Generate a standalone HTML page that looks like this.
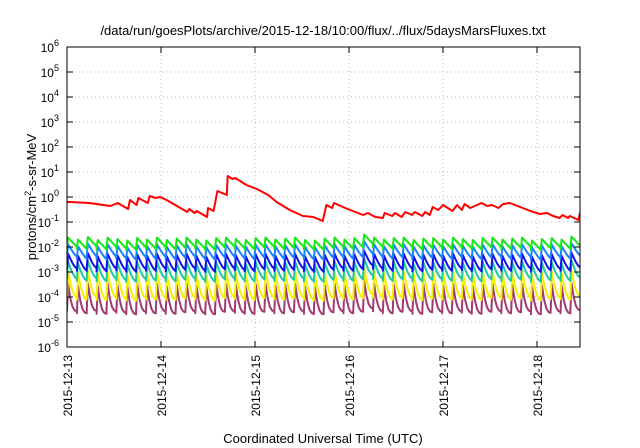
<!DOCTYPE html>
<html><head><meta charset="utf-8"><style>
html,body{margin:0;padding:0;background:#fff;}
svg{display:block;font-family:"Liberation Sans",sans-serif;}
</style></head><body>
<svg id="chart" width="640" height="448" viewBox="0 0 640 448" xmlns="http://www.w3.org/2000/svg">
<text x="323" y="35" font-size="13" text-anchor="middle">/data/run/goesPlots/archive/2015-12-18/10:00/flux/../flux/5daysMarsFluxes.txt</text>
<g id="grid"></g>
<g id="series"></g>
<rect x="67" y="47" width="513" height="300" fill="none" stroke="#000" stroke-width="1"/>
<g id="axes"></g>
<text transform="translate(36,197) rotate(-90)" font-size="13" text-anchor="middle">protons/cm<tspan dy="-5" font-size="9">2</tspan><tspan dy="5">-s-sr-MeV</tspan></text>
<text x="323" y="443" font-size="13" text-anchor="middle">Coordinated Universal Time (UTC)</text>
</svg>
<script>
const xTickLabels = ["2015-12-13","2015-12-14","2015-12-15","2015-12-16","2015-12-17","2015-12-18"];
const yTickExps = [-6,-5,-4,-3,-2,-1,0,1,2,3,4,5,6];
const cyclePeriod = 0.105;
const greenPeaks = [-1.62,-1.70,-1.60,-1.72,-1.62,-1.68,-1.74,-1.64,-1.70,-1.62,-1.72,-1.66,-1.62,-1.70,-1.74,-1.64,-1.62,-1.68,-1.72,-1.64,-1.62,-1.70,-1.66,-1.62,-1.72,-1.74,-1.66,-1.62,-1.70,-1.64,-1.50,-1.62,-1.70,-1.64,-1.62,-1.72,-1.66,-1.64,-1.70,-1.62,-1.68,-1.72,-1.64,-1.62,-1.70,-1.66,-1.62,-1.74,-1.68,-1.64,-1.70,-1.58];
const azurePeaks = [-1.89,-1.97,-1.87,-1.99,-1.89,-1.95,-2.01,-1.91,-1.97,-1.89,-1.99,-1.93,-1.89,-1.97,-2.01,-1.91,-1.89,-1.95,-1.99,-1.91,-1.89,-1.97,-1.93,-1.89,-1.99,-2.01,-1.93,-1.89,-1.97,-1.91,-1.77,-1.89,-1.97,-1.91,-1.89,-1.99,-1.93,-1.91,-1.97,-1.89,-1.95,-1.99,-1.91,-1.89,-1.97,-1.93,-1.89,-2.01,-1.95,-1.91,-1.97,-1.85];
const bluePeaks = [-2.27,-2.35,-2.25,-2.37,-2.27,-2.33,-2.39,-2.29,-2.35,-2.27,-2.37,-2.31,-2.27,-2.35,-2.39,-2.29,-2.27,-2.33,-2.37,-2.29,-2.27,-2.35,-2.31,-2.27,-2.37,-2.39,-2.31,-2.27,-2.35,-2.29,-2.15,-2.27,-2.35,-2.29,-2.27,-2.37,-2.31,-2.29,-2.35,-2.27,-2.33,-2.37,-2.29,-2.27,-2.35,-2.31,-2.27,-2.39,-2.33,-2.29,-2.35,-2.23];
const tealPeaks = [-2.57,-2.65,-2.55,-2.67,-2.57,-2.63,-2.69,-2.59,-2.65,-2.57,-2.67,-2.61,-2.57,-2.65,-2.69,-2.59,-2.57,-2.63,-2.67,-2.59,-2.57,-2.65,-2.61,-2.57,-2.67,-2.69,-2.61,-2.57,-2.65,-2.59,-2.45,-2.57,-2.65,-2.59,-2.57,-2.67,-2.61,-2.59,-2.65,-2.57,-2.63,-2.67,-2.59,-2.57,-2.65,-2.61,-2.57,-2.69,-2.63,-2.59,-2.65,-2.53];
const yellowPeaks = [-2.97,-3.05,-2.95,-3.07,-2.97,-3.03,-3.09,-2.99,-3.05,-2.97,-3.07,-3.01,-2.97,-3.05,-3.09,-2.99,-2.97,-3.03,-3.07,-2.99,-2.97,-3.05,-3.01,-2.97,-3.07,-3.09,-3.01,-2.97,-3.05,-2.99,-2.85,-2.97,-3.05,-2.99,-2.97,-3.07,-3.01,-2.99,-3.05,-2.97,-3.03,-3.07,-2.99,-2.97,-3.05,-3.01,-2.97,-3.09,-3.03,-2.99,-3.05,-2.93];
const purplePeaks = [-3.47,-3.55,-3.45,-3.57,-3.47,-3.53,-3.59,-3.49,-3.55,-3.47,-3.57,-3.51,-3.47,-3.55,-3.59,-3.49,-3.47,-3.53,-3.57,-3.49,-3.47,-3.55,-3.51,-3.47,-3.57,-3.59,-3.51,-3.47,-3.55,-3.49,-3.35,-3.47,-3.55,-3.49,-3.47,-3.57,-3.51,-3.49,-3.55,-3.47,-3.53,-3.57,-3.49,-3.47,-3.55,-3.51,-3.47,-3.59,-3.53,-3.49,-3.55,-3.43];
const decayDepths = [0.38,0.5,0.6,0.7,1.05,1.1];
const redT = [0,0.03,0.24,0.46,0.54,0.65,0.67,0.74,0.76,0.86,0.88,0.94,0.99,1.06,1.28,1.30,1.36,1.38,1.49,1.50,1.56,1.60,1.70,1.71,1.76,1.79,1.91,2.02,2.14,2.23,2.37,2.51,2.62,2.72,2.76,2.82,2.84,2.96,3.04,3.15,3.20,3.28,3.36,3.38,3.46,3.49,3.56,3.60,3.67,3.70,3.78,3.81,3.86,3.89,3.95,4.00,4.10,4.15,4.20,4.23,4.29,4.41,4.47,4.52,4.59,4.64,4.71,4.82,4.93,5.03,5.11,5.17,5.24,5.27,5.33,5.35,5.44,5.46];
const redV = [-0.2,-0.2,-0.24,-0.36,-0.24,-0.48,-0.12,-0.32,-0.04,-0.24,0.04,-0.04,0,-0.12,-0.6,-0.48,-0.64,-0.56,-0.8,-0.44,-0.56,0.24,0.08,0.84,0.72,0.76,0.48,0.32,0.08,-0.2,-0.52,-0.76,-0.8,-0.96,-0.32,-0.44,-0.24,-0.44,-0.56,-0.72,-0.64,-0.8,-0.84,-0.64,-0.76,-0.64,-0.8,-0.6,-0.72,-0.6,-0.76,-0.6,-0.72,-0.4,-0.52,-0.32,-0.56,-0.32,-0.52,-0.28,-0.44,-0.24,-0.36,-0.32,-0.44,-0.28,-0.24,-0.4,-0.56,-0.68,-0.64,-0.76,-0.84,-0.72,-0.84,-0.76,-0.92,-0.6];

const L=67,R=580,T=47,B=347, DAYS=(R-L)/94;
const xS = d => L + d*94;
const yS = lg => B - (lg+6)*(B-T)/12;
const NS="http://www.w3.org/2000/svg";
const grid=document.getElementById('grid'), axes=document.getElementById('axes'), ser=document.getElementById('series');
function mk(tag,attrs,parent){const e=document.createElementNS(NS,tag);for(const k in attrs)e.setAttribute(k,attrs[k]);parent.appendChild(e);return e;}

yTickExps.forEach((e,i)=>{
  const y=yS(e);
  if(e>-6&&e<6){const g=mk('line',{x1:L,x2:R,y1:y,y2:y,stroke:'#bbb','stroke-dasharray':'1,3'},grid);
  
  }
  const t1=mk('line',{x1:L,x2:L+6,y1:y,y2:y,stroke:'#000'},axes);
  
  
  const t2=mk('line',{x1:R-6,x2:R,y1:y,y2:y,stroke:'#000'},axes);
  
  
  const tx=mk('text',{x:L-8,y:y+5,'font-size':'12','text-anchor':'end'},axes);
  
  
  tx.innerHTML='10<tspan dy="-6" font-size="9">'+e+'</tspan>';
});
xTickLabels.forEach((lab,i)=>{
  const x=xS(i);
  if(i>0){const g=mk('line',{x1:x,x2:x,y1:T,y2:B,stroke:'#bbb','stroke-dasharray':'1,3'},grid);
  
  }
  const t1=mk('line',{x1:x,x2:x,y1:B-6,y2:B,stroke:'#000'},axes);
  
  
  const t2=mk('line',{x1:x,x2:x,y1:T,y2:T+6,stroke:'#000'},axes);
  
  
  const tx=mk('text',{transform:'translate('+(x+5)+','+(B+8)+') rotate(-90)','font-size':'12','text-anchor':'end'},axes);
  
  
  tx.textContent=lab;
});

const clip=mk('clipPath',{id:'pc'},document.getElementById('chart'));
mk('rect',{x:L,y:T,width:R-L,height:B-T},clip);
ser.setAttribute('clip-path','url(#pc)');

const sawSeries=[[greenPeaks,'#16e816',1],[azurePeaks,'#1a80ff',1.2],[bluePeaks,'#1010e8',1.4],[tealPeaks,'#20c8a0',1.6],[yellowPeaks,'#f4f000',2.0],[purplePeaks,'#a03a70',2.6]];
const names=['series-green','series-azure','series-blue','series-teal','series-yellow','series-purple'];
const fr=[0.25,0.5,0.75,1];
for(let s=sawSeries.length-1;s>=0;s--){
  const [pk,col,k]=sawSeries[s], dep=decayDepths[s];
  let pts=[];
  pk.forEach((p,i)=>{
    const t0=i*cyclePeriod, tr=p-dep;
    pts.push([xS(t0),yS(tr)]);
    pts.push([xS(t0+0.012),yS(p)]);
    fr.forEach(f=>{pts.push([xS(t0+0.012+f*(cyclePeriod-0.012)),yS(tr+dep*Math.pow(1-f,k))]);});
  });
  const pl=mk('polyline',{points:pts.map(q=>q[0].toFixed(1)+','+q[1].toFixed(1)).join(' '),fill:'none',stroke:col,'stroke-width':'2','stroke-linejoin':'round'},ser);
  
  
}
const rp=redT.map((t,i)=>xS(t).toFixed(1)+','+yS(redV[i]).toFixed(1)).join(' ');
const red=mk('polyline',{points:rp,fill:'none',stroke:'#f00','stroke-width':'2','stroke-linejoin':'round'},ser);


</script>
</body></html>
